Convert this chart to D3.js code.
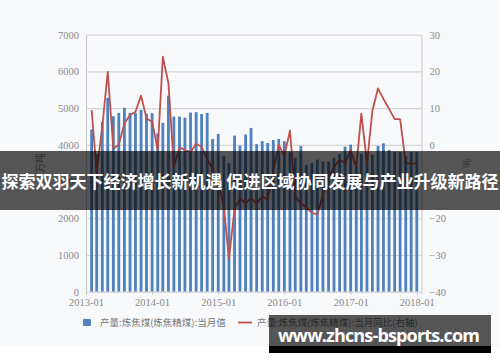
<!DOCTYPE html>
<html>
<head>
<meta charset="utf-8">
<title>炼焦煤产量</title>
<script src="https://cdn.jsdelivr.net/npm/d3@7"></script>
<style>
  body { margin: 0; background: #fff; }
  svg { display: block; }
</style>
</head>
<body>
<div id="chart"></div>
<script>
// months shown as bars (Jan of 2013 missing in the source)
var months = [
  "2013-02","2013-03","2013-04","2013-05","2013-06","2013-07","2013-08","2013-09","2013-10","2013-11","2013-12",
  "2014-01","2014-02","2014-03","2014-04","2014-05","2014-06","2014-07","2014-08","2014-09","2014-10","2014-11","2014-12",
  "2015-01","2015-02","2015-03","2015-04","2015-05","2015-06","2015-07","2015-08","2015-09","2015-10","2015-11","2015-12",
  "2016-01","2016-02","2016-03","2016-04","2016-05","2016-06","2016-07","2016-08","2016-09","2016-10","2016-11","2016-12",
  "2017-01","2017-02","2017-03","2017-04","2017-05","2017-06","2017-07","2017-08","2017-09","2017-10","2017-11","2017-12",
  "2018-01"
];

// 当月值, 万吨
var monthly = [
  4420,3750,4620,5280,4780,4870,5010,4870,4870,4950,4850,
  4860,4310,4600,5340,4770,4770,4740,4880,4890,4840,4870,4160,
  4300,3700,3500,4250,3980,4280,4460,4020,4100,4050,4130,4160,
  4100,3810,3650,3970,3450,3500,3600,3550,3550,3650,3750,3950,
  4005,3400,3750,3700,3730,3970,4040,3860,3810,3800,3700,3800,
  3800
];

// 当月同比, %
var yoy = [
  9.5,-7.5,5,19.9,-1,0,5.9,8.1,9.0,13.4,7.2,
  6.3,-1.4,24.0,16.8,-6,-0.7,-1.4,-2.0,0.3,-0.5,-4,-6.5,
  -10,-17,-31,-17.5,-14.5,-16,-14.5,-16,-14,-15,-7,0,
  -3,3.9,-14,-16,-17,-18.5,-19,-13.5,-9,-6,-4,-5,
  -1.5,-6,8.5,-5,9.3,15.4,12.5,9.8,7.0,7.0,-5,-5.2,
  -5
];

var leftTicks = [0,1000,2000,3000,4000,5000,6000,7000];
var rightTicks = [-40,-30,-20,-10,0,10,20,30];
var yearTicks = ["2013-01","2014-01","2015-01","2016-01","2017-01","2018-01"];

var legendNames = ["产量:炼焦煤(炼焦精煤):当月值", "产量:炼焦煤(炼焦精煤):当月同比(右轴)"];
var bannerText = "探索双羽天下经济增长新机遇 促进区域协同发展与产业升级新路径";
var siteText = "www.zhcns-bsports.com";

var W = 500, H = 362;
var plotL = 86, plotR = 421.5, plotT = 34.7, plotB = 291.7;
var parse = d3.utcParse("%Y-%m");
var fmt = d3.utcFormat("%Y-%m");

var svg = d3.select("#chart").append("svg")
  .attr("width", W).attr("height", H);

// picture background
svg.append("rect").attr("width", W).attr("height", 347).attr("fill", "#f8f9fb");

var x = d3.scaleUtc()
  .domain([parse("2013-01"), new Date(Date.UTC(2018, 0, 27))])
  .range([plotL, plotR]);
var y = d3.scaleLinear().domain([0, 7000]).range([plotB, plotT]);
var y2 = d3.scaleLinear().domain([-40, 30]).range([plotB, plotT]);

var tickFont = "'Liberation Serif', 'DejaVu Serif', serif";

// grid
var grid = svg.append("g")
  .attr("transform", "translate(" + plotL + ",0)")
  .call(d3.axisLeft(y).tickValues(leftTicks.slice(1)).tickSize(-(plotR - plotL)).tickFormat(""));
grid.select(".domain").remove();
grid.selectAll("line").attr("stroke", "#d6d6d9").attr("stroke-width", 1.2);

// bars
var barW = 2.8;
svg.append("g").selectAll("rect")
  .data(months)
  .join("rect")
  .attr("x", function(d) { return x(parse(d)) - barW / 2; })
  .attr("y", function(d, i) { return y(monthly[i]); })
  .attr("width", barW)
  .attr("height", function(d, i) { return y(0) - y(monthly[i]); })
  .attr("fill", "#4f81bd");

// yoy line
var line = d3.line()
  .x(function(d) { return x(parse(d)); })
  .y(function(d, i) { return y2(yoy[i]); });
svg.append("path")
  .datum(months)
  .attr("d", line)
  .attr("fill", "none")
  .attr("stroke", "#c0504d")
  .attr("stroke-width", 1.8)
  .attr("stroke-linejoin", "round");

// left axis
var ax = svg.append("g")
  .attr("transform", "translate(" + plotL + ",0)")
  .call(d3.axisLeft(y).tickValues(leftTicks).tickFormat(d3.format("d")).tickSize(0).tickPadding(7));
ax.select(".domain").attr("stroke", "#c8c8cc");

// right axis
var ax2 = svg.append("g")
  .attr("transform", "translate(" + plotR + ",0)")
  .call(d3.axisRight(y2).tickValues(rightTicks).tickFormat(d3.format("d")).tickSize(0).tickPadding(8));
ax2.select(".domain").attr("stroke", "#c8c8cc");

// bottom axis
var axb = svg.append("g")
  .attr("transform", "translate(0," + plotB + ")")
  .call(d3.axisBottom(x).tickValues(yearTicks.map(parse)).tickFormat(fmt).tickSizeOuter(0).tickSize(3).tickPadding(4));
axb.select(".domain").attr("stroke", "#c8c8cc");
axb.selectAll("line").attr("stroke", "#c8c8cc");

svg.selectAll(".tick text")
  .style("font-family", tickFont)
  .style("font-size", "10.5px")
  .attr("fill", "#8a8a8a");

// axis titles
svg.append("text")
  .attr("transform", "translate(44,163) rotate(-90)")
  .attr("text-anchor", "middle")
  .attr("font-family", "'Noto Sans CJK SC', sans-serif")
  .attr("font-size", 10)
  .attr("fill", "#8a8a8a")
  .text("万吨");
svg.append("text")
  .attr("transform", "translate(463,163) rotate(90)")
  .attr("text-anchor", "middle")
  .attr("font-family", "'Noto Sans CJK SC', sans-serif")
  .attr("font-size", 10)
  .attr("fill", "#8a8a8a")
  .text("%");

// legend
var lg = svg.append("g")
  .attr("font-family", "'Noto Sans CJK SC', sans-serif")
  .attr("font-size", 9.5)
  .attr("fill", "#777");
lg.append("rect").attr("x", 83).attr("y", 319).attr("width", 8).attr("height", 7)
  .attr("rx", 1).attr("fill", "#4f81bd");
lg.append("text").attr("x", 100).attr("y", 326).text(legendNames[0]);
lg.append("line").attr("x1", 238).attr("x2", 252).attr("y1", 322.5).attr("y2", 322.5)
  .attr("stroke", "#c0504d").attr("stroke-width", 1.8);
lg.append("text").attr("x", 257).attr("y", 326).text(legendNames[1]);

// banner overlay
svg.append("rect").attr("x", 0).attr("y", 151).attr("width", W).attr("height", 59)
  .attr("fill", "rgba(0,0,0,0.66)");
svg.append("text")
  .attr("x", W / 2).attr("y", 188)
  .attr("text-anchor", "middle")
  .attr("font-family", "'Noto Sans CJK SC', sans-serif")
  .attr("font-weight", "bold")
  .attr("font-size", 17)
  .attr("fill", "#fff")
  .attr("textLength", 497)
  .text(bannerText);

// site tag
svg.append("rect").attr("x", 269).attr("y", 315).attr("width", 222).attr("height", 31)
  .attr("fill", "rgba(0,0,0,0.66)");
svg.append("rect").attr("x", 269).attr("y", 346).attr("width", 222).attr("height", 7)
  .attr("fill", "#000");
svg.append("text")
  .attr("x", 278).attr("y", 342)
  .attr("font-family", "'Open Sans', 'Noto Sans', sans-serif")
  .attr("font-weight", "bold")
  .attr("font-size", 18)
  .attr("fill", "#fff")
  .attr("textLength", 202)
  .text(siteText);
</script>
</body>
</html>
